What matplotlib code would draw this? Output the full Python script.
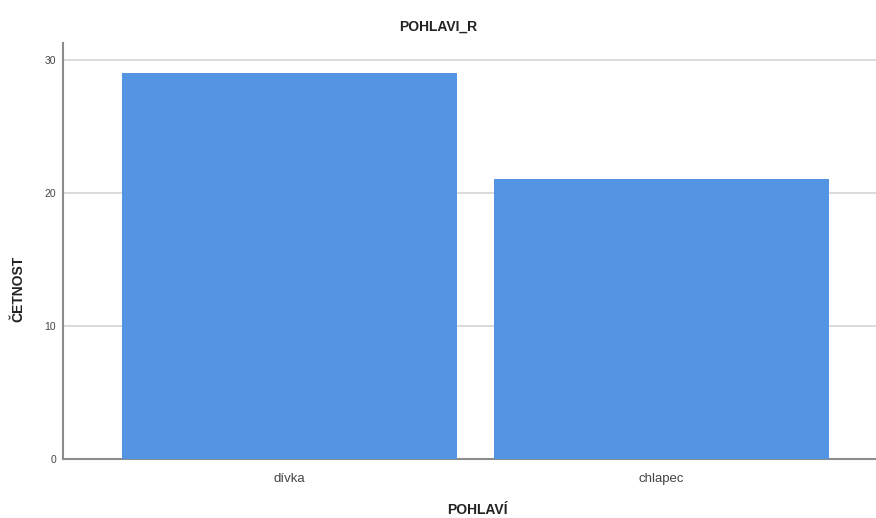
import matplotlib.pyplot as plt

categories = ['dívka', 'chlapec']
counts = [29, 21]
y_ticks = [0, 10, 20, 30]

plt.rcParams['font.family'] = ['Liberation Sans', 'DejaVu Sans']

W, H = 876, 518
fig = plt.figure(figsize=(W / 100, H / 100), dpi=100)
# axes reach past the right edge, the reference is cropped there
ax = fig.add_axes([63 / W, 1 - 459 / H, (888 - 63) / W, (459 - 43) / H])

x = range(len(categories))
ax.bar(x, counts, width=0.9, color='#5394e3', zorder=3)

ax.set_xlim(-0.608, 1.608)
ax.set_ylim(0, 31.25)
ax.set_yticks(y_ticks)
ax.set_xticks(list(x))
ax.set_xticklabels(categories)
ax.yaxis.grid(True, color='#d4d4d4', linewidth=1.2, zorder=0)
ax.set_axisbelow(True)

ax.tick_params(axis='y', length=0, labelsize=7.5, labelcolor='#444444', pad=5)
ax.tick_params(axis='x', length=0, labelsize=9.5, labelcolor='#444444', pad=10)
for s in ['top', 'right']:
    ax.spines[s].set_visible(False)
for s in ['left', 'bottom']:
    ax.spines[s].set_color('#8c8c8c')
    ax.spines[s].set_linewidth(1.5)

fig.text(438 / W, 1 - 27 / H, 'POHLAVI_R', ha='center', va='center',
         fontsize=10, fontweight='bold', color='#222222')
fig.text(18 / W, 1 - 289 / H, 'ČETNOST', ha='center', va='center', rotation=90,
         fontsize=10, fontweight='bold', color='#222222')
fig.text(477 / W, 1 - 510 / H, 'POHLAVÍ', ha='center', va='center',
         fontsize=10, fontweight='bold', color='#222222')

fig.savefig('out.png', dpi=100)
